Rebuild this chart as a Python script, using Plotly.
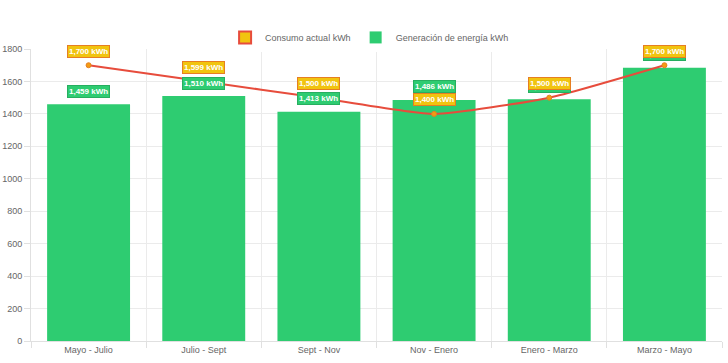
import plotly.graph_objects as go

categories = ["Mayo - Julio", "Julio - Sept", "Sept - Nov", "Nov - Enero", "Enero - Marzo", "Marzo - Mayo"]
generacion = [1459, 1510, 1413, 1486, 1490, 1685]
consumo = [1700, 1599, 1500, 1400, 1500, 1700]
y_ticks = [0, 200, 400, 600, 800, 1000, 1200, 1400, 1600, 1800]

GREEN = "#2ecc71"
RED = "#e74c3c"
YELLOW = "#f1c40f"
ORANGE = "#f39c12"
FONT = "Liberation Sans, Arial, sans-serif"

xs = list(range(len(categories)))

fig = go.Figure()

# legend-only entry styled like the reference box
fig.add_trace(go.Bar(x=[None], y=[None], name="Consumo actual kWh",
                     marker=dict(color=YELLOW, line=dict(color=RED, width=2))))

fig.add_trace(go.Bar(x=xs, y=generacion, name="Generación de energía kWh",
                     width=0.72, marker=dict(color=GREEN, line=dict(width=0)),
                     hoverinfo="skip"))

fig.add_trace(go.Scatter(x=xs, y=consumo, mode="lines+markers", showlegend=False,
                         line=dict(color=RED, width=2, shape="spline", smoothing=0.5),
                         marker=dict(color=ORANGE, size=5, line=dict(color="#e67e22", width=1))))

annotations = []
for x, v in zip(xs, generacion):
    annotations.append(dict(x=x, y=v, xref="x", yref="y", text=f"<b>{v:,} kWh</b>",
                            showarrow=False, yshift=13, bgcolor=GREEN, bordercolor="#27ae60",
                            borderwidth=1, borderpad=1,
                            font=dict(color="white", size=8, family=FONT)))
for x, v in zip(xs, consumo):
    annotations.append(dict(x=x, y=v, xref="x", yref="y", text=f"<b>{v:,} kWh</b>",
                            showarrow=False, yshift=14, bgcolor=YELLOW, bordercolor="#e67e22",
                            borderwidth=1, borderpad=1,
                            font=dict(color="white", size=8, family=FONT)))

fig.update_layout(
    width=728, height=363,
    margin=dict(l=31, r=6, t=49, b=22),
    paper_bgcolor="white", plot_bgcolor="white",
    barmode="overlay",
    font=dict(family=FONT, color="#666", size=9),
    showlegend=True,
    legend=dict(orientation="h", x=0.49, xanchor="center", y=0.99, yanchor="bottom",
                font=dict(size=9, color="#666"), itemclick=False),
    annotations=annotations,
    xaxis=dict(range=[-0.5, len(categories) - 0.5], tickmode="array", tickvals=xs,
               ticktext=categories, showgrid=False, ticks="", zeroline=False,
               showline=True, linecolor="#e0e0e0", automargin=False,
               tickfont=dict(size=9, color="#666"),
               minor=dict(tick0=0.5, dtick=1, showgrid=True, gridcolor="#ebebeb",
                          ticks="outside", ticklen=6, tickcolor="#e0e0e0")),
    yaxis=dict(range=[0, 1800], tickmode="array", tickvals=y_ticks, showgrid=True,
               gridcolor="#ebebeb", zeroline=False, showline=True, linecolor="#e0e0e0",
               ticks="outside", ticklen=6, tickcolor="#e0e0e0", automargin=False,
               tickfont=dict(size=9, color="#666")),
)

fig.write_html("out.html", config={"displayModeBar": False},
               post_script="document.body.style.margin='0';")
